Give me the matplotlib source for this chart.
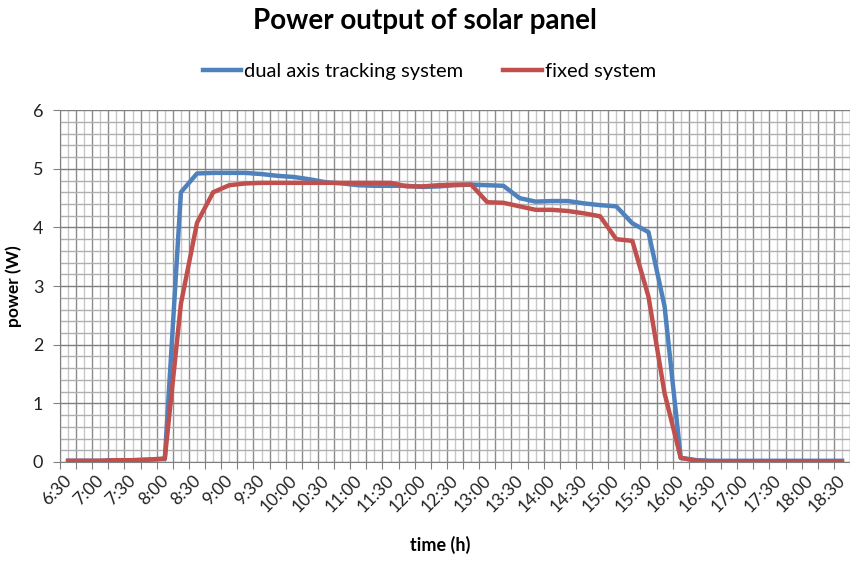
import matplotlib
matplotlib.use("Agg")
import matplotlib.pyplot as plt
from matplotlib.ticker import FixedLocator, MultipleLocator

plt.rcParams['font.family'] = ['Lato', 'DejaVu Sans']

# time of day, every 15 minutes
times = ['6:30', '6:45', '7:00', '7:15', '7:30', '7:45', '8:00', '8:15', '8:30', '8:45',
         '9:00', '9:15', '9:30', '9:45', '10:00', '10:15', '10:30', '10:45', '11:00', '11:15',
         '11:30', '11:45', '12:00', '12:15', '12:30', '12:45', '13:00', '13:15', '13:30', '13:45',
         '14:00', '14:15', '14:30', '14:45', '15:00', '15:15', '15:30', '15:45', '16:00', '16:15',
         '16:30', '16:45', '17:00', '17:15', '17:30', '17:45', '18:00', '18:15', '18:30']

# measured power (W)
dual_axis = [0.02, 0.02, 0.02, 0.03, 0.03, 0.04, 0.05, 4.60, 4.92, 4.93,
             4.93, 4.93, 4.91, 4.88, 4.86, 4.82, 4.77, 4.75, 4.72, 4.71,
             4.71, 4.71, 4.69, 4.70, 4.72, 4.73, 4.72, 4.71, 4.50, 4.44,
             4.45, 4.45, 4.41, 4.38, 4.36, 4.07, 3.92, 2.65, 0.07, 0.03,
             0.02, 0.02, 0.02, 0.02, 0.02, 0.02, 0.02, 0.02, 0.02]
fixed = [0.02, 0.02, 0.02, 0.03, 0.03, 0.04, 0.06, 2.70, 4.08, 4.60,
         4.72, 4.75, 4.76, 4.76, 4.76, 4.76, 4.76, 4.76, 4.76, 4.76,
         4.76, 4.70, 4.70, 4.72, 4.73, 4.73, 4.43, 4.42, 4.36, 4.30,
         4.30, 4.28, 4.24, 4.19, 3.80, 3.77, 2.82, 1.17, 0.07, 0.02,
         0.01, 0.01, 0.01, 0.01, 0.01, 0.01, 0.01, 0.01, 0.01]

x = list(range(len(times)))

fig = plt.figure(figsize=(8.5, 5.62), dpi=100)
ax = fig.add_axes([0.0706, 0.178, 0.9294, 0.626])

ax.plot(x, dual_axis, color='#4F81BD', lw=3.2, label='dual axis tracking system',
        solid_joinstyle='round', zorder=3)
ax.plot(x, fixed, color='#C0504D', lw=3.2, label='fixed system',
        solid_joinstyle='round', zorder=4)

ax.set_xlim(-0.5, len(times) - 0.5)
ax.set_ylim(0, 6)

# gridlines: categories on the boundaries, half steps in between
ax.xaxis.set_major_locator(FixedLocator([i - 0.5 for i in range(len(times) + 1)]))
ax.xaxis.set_minor_locator(FixedLocator(x))
ax.yaxis.set_major_locator(MultipleLocator(1))
ax.yaxis.set_minor_locator(MultipleLocator(0.2))
ax.grid(which='major', axis='x', color='#8c8c8c', lw=1.0)
ax.grid(which='minor', axis='x', color='#c8c8c8', lw=1.0)
ax.grid(which='major', axis='y', color='#7f7f7f', lw=1.0)
ax.grid(which='minor', axis='y', color='#b0b0b0', lw=1.0)
ax.set_axisbelow(True)

ax.set_xticklabels([])
ax.tick_params(axis='x', which='major', length=5, color='#808080', direction='out')
ax.tick_params(axis='x', which='minor', length=0)
ax.tick_params(axis='y', which='major', length=5, color='#808080', labelsize=13,
               labelcolor='#222222', pad=7)
ax.tick_params(axis='y', which='minor', length=0)

# half-hour labels, slanted under the category centres
for i in range(0, len(times), 2):
    ax.text(i - 0.3, -0.17, times[i], rotation=45, ha='right', va='top',
            rotation_mode='anchor', fontsize=12.5, color='#222222')

for side in ['top', 'right']:
    ax.spines[side].set_visible(False)
for side in ['left', 'bottom']:
    ax.spines[side].set_color('#808080')

ax.set_ylabel('power (W)', fontsize=12.5, fontweight='bold', labelpad=8)
fig.text(0.518, 0.02, 'time (h)', fontsize=13, fontweight='bold', ha='center')

fig.suptitle('Power output of solar panel', fontsize=20, fontweight='bold', y=0.985)
fig.legend(loc='upper center', bbox_to_anchor=(0.505, 0.92), ncol=2, frameon=False,
           fontsize=14.5, handlelength=1.9, handletextpad=0.15, columnspacing=2.0)

fig.savefig('out.png', dpi=100)
